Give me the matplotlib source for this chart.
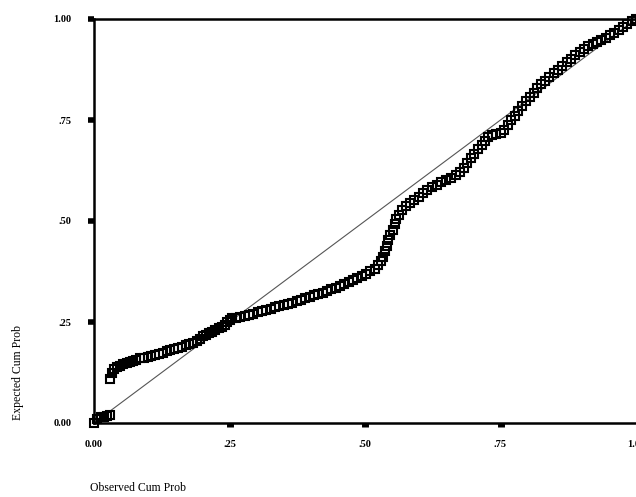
import matplotlib
matplotlib.use("Agg")
import matplotlib.pyplot as plt

# =========================
# DATA
# =========================

observed = [
    0.000, 0.006, 0.012, 0.018, 0.024, 0.030,
    0.030, 0.033, 0.037, 0.042, 0.048, 0.054, 0.060, 0.066, 0.072, 0.078,
    0.085, 0.092, 0.099, 0.106, 0.113, 0.120, 0.127, 0.134, 0.141, 0.148,
    0.155, 0.162, 0.169, 0.176, 0.183, 0.190, 0.196, 0.201, 0.206, 0.212,
    0.218, 0.224, 0.230, 0.236, 0.241, 0.246, 0.250, 0.255, 0.262, 0.270,
    0.278, 0.286, 0.294, 0.302, 0.310, 0.318, 0.326, 0.334, 0.342, 0.350,
    0.358, 0.366, 0.374, 0.382, 0.390, 0.398, 0.406, 0.414, 0.422, 0.430,
    0.438, 0.446, 0.454, 0.462, 0.470, 0.478, 0.486, 0.494, 0.502, 0.510,
    0.518, 0.524, 0.530, 0.534, 0.537, 0.540, 0.543, 0.547, 0.551, 0.555,
    0.558, 0.563, 0.569, 0.576, 0.583, 0.591, 0.599, 0.607, 0.615, 0.623,
    0.632, 0.641, 0.650, 0.659, 0.667, 0.675, 0.682, 0.689, 0.695, 0.702,
    0.709, 0.716, 0.722, 0.727, 0.734, 0.742, 0.750, 0.757, 0.763, 0.769,
    0.776, 0.783, 0.790, 0.797, 0.804, 0.811, 0.818, 0.825, 0.832, 0.840,
    0.848, 0.856, 0.864, 0.872, 0.880, 0.888, 0.896, 0.904, 0.912, 0.920,
    0.928, 0.936, 0.944, 0.952, 0.960, 0.968, 0.976, 0.984, 0.992, 1.000,
]

expected = [
    0.000, 0.010, 0.014, 0.016, 0.018, 0.020,
    0.110, 0.125, 0.133, 0.138, 0.141, 0.145, 0.148, 0.151, 0.154, 0.157,
    0.160, 0.162, 0.164, 0.166, 0.169, 0.172, 0.174, 0.177, 0.180, 0.183,
    0.186, 0.189, 0.192, 0.196, 0.199, 0.203, 0.208, 0.215, 0.219, 0.222,
    0.226, 0.230, 0.234, 0.238, 0.243, 0.250, 0.256, 0.259, 0.261, 0.263,
    0.266, 0.268, 0.271, 0.274, 0.277, 0.280, 0.283, 0.286, 0.289, 0.292,
    0.295, 0.298, 0.301, 0.305, 0.309, 0.312, 0.316, 0.319, 0.323, 0.327,
    0.331, 0.335, 0.339, 0.344, 0.350, 0.355, 0.360, 0.365, 0.370, 0.376,
    0.382, 0.390, 0.400, 0.412, 0.425, 0.438, 0.452, 0.465, 0.478, 0.492,
    0.505, 0.516, 0.527, 0.536, 0.544, 0.552, 0.560, 0.569, 0.577, 0.584,
    0.590, 0.596, 0.601, 0.607, 0.614, 0.622, 0.632, 0.643, 0.655, 0.667,
    0.678, 0.689, 0.698, 0.708, 0.712, 0.715, 0.719, 0.726, 0.737, 0.749,
    0.760, 0.773, 0.785, 0.797, 0.808, 0.818, 0.828, 0.838, 0.847, 0.857,
    0.866, 0.875, 0.884, 0.893, 0.902, 0.911, 0.919, 0.926, 0.932, 0.938,
    0.943, 0.949, 0.954, 0.960, 0.966, 0.973, 0.981, 0.988, 0.994, 1.000,
]

ref_line = [0.0, 1.0]

tick_vals = [0.0, 0.25, 0.50, 0.75, 1.00]
x_tick_labels = ["0.00", ".25", ".50", ".75", "1.00"]
y_tick_labels = ["0.00", ".25", ".50", ".75", "1.00"]

# =========================
# FIGURE
# =========================

plt.rcParams["font.family"] = ["Liberation Serif", "DejaVu Serif"]

fig = plt.figure(figsize=(6.36, 4.97), dpi=100)
ax = fig.add_axes([94 / 636, 74 / 497, 542 / 636, 404 / 497])

ax.plot(ref_line, ref_line, color="#555555", linewidth=0.8)

ax.plot(
    observed,
    expected,
    linestyle="none",
    marker="s",
    markersize=6.3,
    markerfacecolor="none",
    markeredgecolor="black",
    markeredgewidth=1.5,
    clip_on=False,
)

ax.set_xlim(0, 1)
ax.set_ylim(0, 1)

ax.set_xticks(tick_vals)
ax.set_xticklabels(x_tick_labels, fontsize=7.5, fontweight="bold")
ax.set_yticks(tick_vals)
ax.set_yticklabels(y_tick_labels, fontsize=7.5, fontweight="bold")

ax.tick_params(axis="x", direction="out", length=3, width=5, pad=9)
ax.tick_params(axis="y", direction="out", length=4, width=4, pad=12)

# no tick marks at the corners, only labels
ax.xaxis.get_major_ticks()[0].tick1line.set_visible(False)
ax.xaxis.get_major_ticks()[-1].tick1line.set_visible(False)
ax.yaxis.get_major_ticks()[0].tick1line.set_visible(False)

for side in ["left", "bottom", "top"]:
    ax.spines[side].set_linewidth(1.8)
ax.spines["right"].set_visible(False)

fig.text(90 / 636, 1 - 488 / 497, "Observed Cum Prob", fontsize=8.5,
         ha="left", va="center")
fig.text(18 / 636, 1 - 372 / 497, "Expected Cum Prob", fontsize=8.5,
         rotation=90, ha="center", va="center")

fig.savefig("out.png", dpi=100)
plt.close(fig)
